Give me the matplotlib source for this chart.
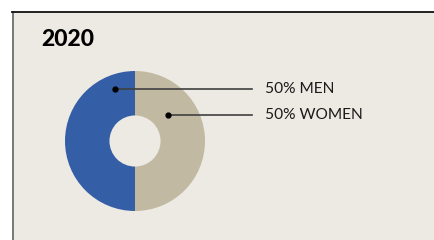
import matplotlib
matplotlib.use("Agg")
import matplotlib.pyplot as plt
from matplotlib.patches import Rectangle

title = "2020"
labels = ["MEN", "WOMEN"]
values = [50, 50]
colors = ["#345EA6", "#C1B9A1"]
# where each leader line starts, in donut units (radius = 1)
anchors = [(-0.28, 0.745), (0.465, 0.37)]

W, H = 434, 240
bg = "#EDEAE3"

fig = plt.figure(figsize=(W / 100, H / 100), dpi=100, facecolor="white")

# panel with border (extends past the right/bottom edge)
fig.patches.append(Rectangle((12 / W, 0), 1, (H - 12) / H, transform=fig.transFigure,
                             facecolor=bg, edgecolor="none", zorder=-5))
fig.lines.append(plt.Line2D([12.5 / W, 12.5 / W], [0, (H - 12) / H], transform=fig.transFigure,
                            color="#6E6E6E", lw=1.3, zorder=-4))
fig.lines.append(plt.Line2D([12 / W, 1], [(H - 12) / H, (H - 12) / H], transform=fig.transFigure,
                            color="#111111", lw=1.3, zorder=-4))

fig.text(41 / W, 1 - 40 / H, title, fontsize=16.5, fontweight="black", family="Lato",
         va="center", ha="left", color="black")

cx, cy, r = 135, 141, 70
ax = fig.add_axes([(cx - r) / W, (H - cy - r) / H, 2 * r / W, 2 * r / H])
ax.pie(values, colors=colors, startangle=90, counterclock=True,
       wedgeprops=dict(width=0.635, edgecolor="none"))
ax.set_xlim(-1, 1)
ax.set_ylim(-1, 1)
ax.set_aspect("equal")
ax.axis("off")

line_end = (252 - cx) / r
text_x = (265 - cx) / r
text_y = [(cy - 89) / r, (cy - 115) / r]
for lab, v, (ax_x, ax_y), ty in zip(labels, values, anchors, text_y):
    ax.plot([ax_x, line_end], [ax_y, ax_y], color="#404040", lw=1.2, clip_on=False)
    ax.plot([ax_x], [ax_y], "o", color="black", ms=3.5, clip_on=False)
    ax.text(text_x, ty, f"{v}% {lab}", fontsize=11.2, family="Lato", va="center",
            ha="left", color="#1A1A1A")

fig.savefig("out.png", dpi=100, facecolor="white")
